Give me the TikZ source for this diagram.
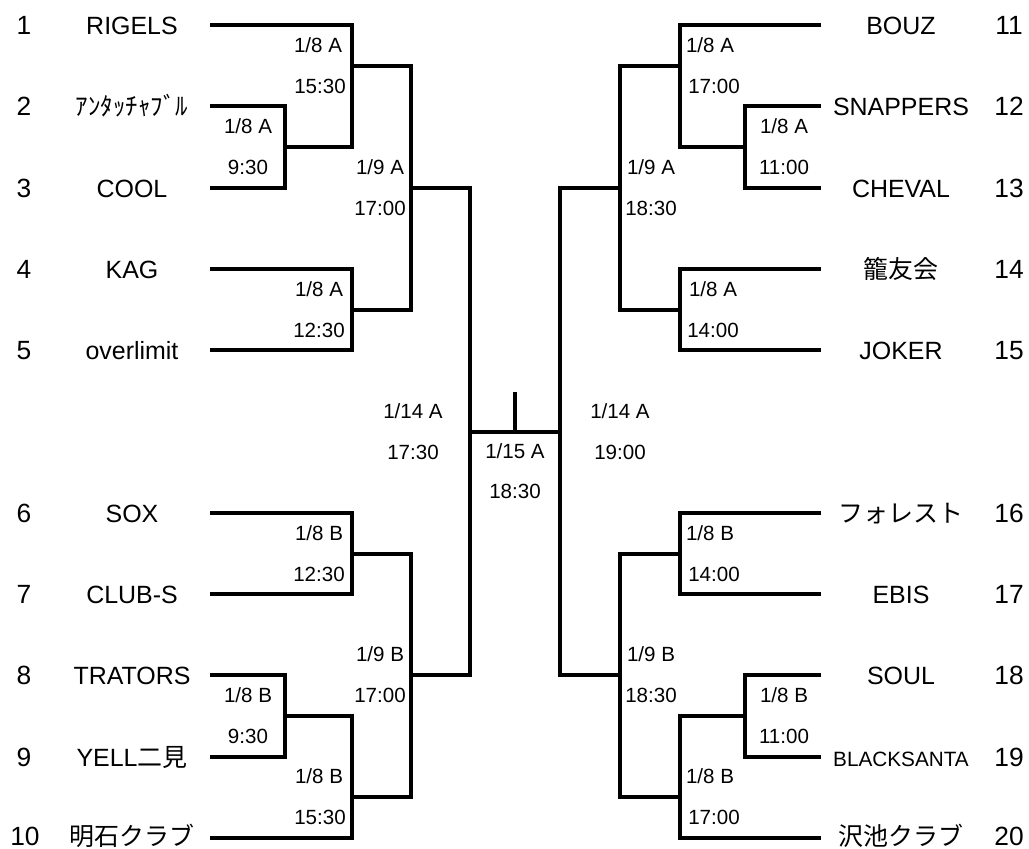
\documentclass[tikz,border=0pt]{standalone}
\usepackage{fontspec}
\setmainfont{Liberation Sans}
\newfontfamily\jp{Noto Sans CJK JP}
\usepackage{tikz}

\begin{document}
\begin{tikzpicture}[x=0.02cm, y=-0.02cm,
  team/.style={anchor=base, inner sep=0pt, font=\fontsize{14.2}{17}\selectfont},
  seed/.style={anchor=base, inner sep=0pt, font=\fontsize{15}{18}\selectfont},
  game/.style={anchor=base, inner sep=0pt, font=\fontsize{11.7}{14}\selectfont},
  bracket/.style={line width=1.9pt}]
\useasboundingbox (0,0) rectangle (1029,849);

% Left half: seeds and team names
\node[seed] (s1) at (24,34) {1};
\node[seed] (s2) at (24,115) {2};
\node[seed] (s3) at (24,197) {3};
\node[seed] (s4) at (24,278) {4};
\node[seed] (s5) at (24,359) {5};
\node[seed] (s6) at (24,522) {6};
\node[seed] (s7) at (24,603) {7};
\node[seed] (s8) at (24,684) {8};
\node[seed] (s9) at (24,766) {9};
\node[seed] (s10) at (25,845) {10};
\node[team] (n1) at (132,34) {RIGELS};
\node[team] (n2) at (132,115) {\jp ｱﾝﾀｯﾁｬﾌﾞﾙ};
\node[team] (n3) at (132,197) {COOL};
\node[team] (n4) at (132,278) {KAG};
\node[team] (n5) at (132,359) {overlimit};
\node[team] (n6) at (132,522) {SOX};
\node[team] (n7) at (132,603) {CLUB-S};
\node[team] (n8) at (132,684) {TRATORS};
\node[team] (n9) at (132,766) {YELL{\jp 二見}};
\node[team] (n10) at (132,845) {\jp 明石クラブ};

% Right half: team names and seeds
\node[team] (n11) at (901,34) {BOUZ};
\node[team] (n12) at (901,115) {SNAPPERS};
\node[team] (n13) at (901,197) {CHEVAL};
\node[team] (n14) at (901,278) {\jp 籠友会};
\node[team] (n15) at (901,359) {JOKER};
\node[team] (n16) at (901,522) {\jp フォレスト};
\node[team] (n17) at (901,603) {EBIS};
\node[team] (n18) at (901,684) {SOUL};
\node[team, font=\fontsize{11.8}{14}\selectfont] (n19) at (901,766) {BLACKSANTA};
\node[team] (n20) at (901,845) {\jp 沢池クラブ};
\node[seed] (s11) at (1009,34) {11};
\node[seed] (s12) at (1009,115) {12};
\node[seed] (s13) at (1009,197) {13};
\node[seed] (s14) at (1009,278) {14};
\node[seed] (s15) at (1009,359) {15};
\node[seed] (s16) at (1009,522) {16};
\node[seed] (s17) at (1009,603) {17};
\node[seed] (s18) at (1009,684) {18};
\node[seed] (s19) at (1009,766) {19};
\node[seed] (s20) at (1009,845) {20};

% Line ends at the teams
\coordinate (t1) at (210,25);
\coordinate (t2) at (210,106);
\coordinate (t3) at (210,188);
\coordinate (t4) at (210,269);
\coordinate (t5) at (210,350);
\coordinate (t6) at (210,513);
\coordinate (t7) at (210,594);
\coordinate (t8) at (210,675);
\coordinate (t9) at (210,757);
\coordinate (t10) at (210,838);
\coordinate (t11) at (821,25);
\coordinate (t12) at (821,106);
\coordinate (t13) at (821,188);
\coordinate (t14) at (821,269);
\coordinate (t15) at (821,350);
\coordinate (t16) at (821,513);
\coordinate (t17) at (821,594);
\coordinate (t18) at (821,675);
\coordinate (t19) at (821,757);
\coordinate (t20) at (821,838);

% Match points
\coordinate (a23) at (285,147);
\coordinate (a1) at (352,66);
\coordinate (a45) at (352,310);
\coordinate (a9A) at (411,188);
\coordinate (a67) at (352,554);
\coordinate (a89) at (285,716);
\coordinate (a10) at (352,797);
\coordinate (a9B) at (411,675);
\coordinate (semiL) at (470,432);
\coordinate (b1213) at (745,147);
\coordinate (b11) at (680,66);
\coordinate (b1415) at (680,310);
\coordinate (b9A) at (620,188);
\coordinate (b1617) at (680,554);
\coordinate (b1819) at (745,716);
\coordinate (b20) at (680,797);
\coordinate (b9B) at (620,675);
\coordinate (semiR) at (560,432);
\coordinate (final) at (515,432);
\coordinate (cup) at (515,392);

% Bracket lines
\draw[bracket] (t2) -| (a23) |- (t3);
\draw[bracket] (t1) -| (a1) |- (a23);
\draw[bracket] (t4) -| (a45) |- (t5);
\draw[bracket] (a1) -| (a9A) |- (a45);
\draw[bracket] (t6) -| (a67) |- (t7);
\draw[bracket] (t8) -| (a89) |- (t9);
\draw[bracket] (a89) -| (a10) |- (t10);
\draw[bracket] (a67) -| (a9B) |- (a10);
\draw[bracket] (a9A) -| (semiL) |- (a9B);
\draw[bracket] (t12) -| (b1213) |- (t13);
\draw[bracket] (t11) -| (b11) |- (b1213);
\draw[bracket] (t14) -| (b1415) |- (t15);
\draw[bracket] (b11) -| (b9A) |- (b1415);
\draw[bracket] (t16) -| (b1617) |- (t17);
\draw[bracket] (t18) -| (b1819) |- (t19);
\draw[bracket] (b1819) -| (b20) |- (t20);
\draw[bracket] (b1617) -| (b9B) |- (b20);
\draw[bracket] (b9A) -| (semiR) |- (b9B);
\draw[bracket] (semiL) -- (semiR);
\draw[bracket] (final) -- (cup);

% Dates and times, left
\node[game] (d1) at (318,52) {1/8 A};
\node[game] (h1) at (320,93) {15:30};
\node[game] (d23) at (248,133) {1/8 A};
\node[game] (h23) at (248,174) {9:30};
\node[game] (d45) at (319,296) {1/8 A};
\node[game] (h45) at (319,337) {12:30};
\node[game] (d9A) at (380,174) {1/9 A};
\node[game] (h9A) at (380,215) {17:00};
\node[game] (d67) at (319,540) {1/8 B};
\node[game] (h67) at (319,581) {12:30};
\node[game] (d89) at (248,702) {1/8 B};
\node[game] (h89) at (248,743) {9:30};
\node[game] (d10) at (319,783) {1/8 B};
\node[game] (h10) at (320,824) {15:30};
\node[game] (d9B) at (380,661) {1/9 B};
\node[game] (h9B) at (380,702) {17:00};
\node[game] (dsL) at (413,418) {1/14 A};
\node[game] (hsL) at (413,459) {17:30};

% Final
\node[game] (dfin) at (515,458) {1/15 A};
\node[game] (hfin) at (515,498) {18:30};

% Dates and times, right
\node[game] (dsR) at (620,418) {1/14 A};
\node[game] (hsR) at (620,459) {19:00};
\node[game] (d11) at (710,52) {1/8 A};
\node[game] (h11) at (714,93) {17:00};
\node[game] (d1213) at (784,133) {1/8 A};
\node[game] (h1213) at (784,174) {11:00};
\node[game] (d1415) at (713,296) {1/8 A};
\node[game] (h1415) at (713,337) {14:00};
\node[game] (db9A) at (651,174) {1/9 A};
\node[game] (hb9A) at (651,215) {18:30};
\node[game] (d1617) at (710,540) {1/8 B};
\node[game] (h1617) at (714,581) {14:00};
\node[game] (d1819) at (784,702) {1/8 B};
\node[game] (h1819) at (784,743) {11:00};
\node[game] (d20) at (710,783) {1/8 B};
\node[game] (h20) at (714,824) {17:00};
\node[game] (db9B) at (651,661) {1/9 B};
\node[game] (hb9B) at (651,702) {18:30};
\end{tikzpicture}
\end{document}
